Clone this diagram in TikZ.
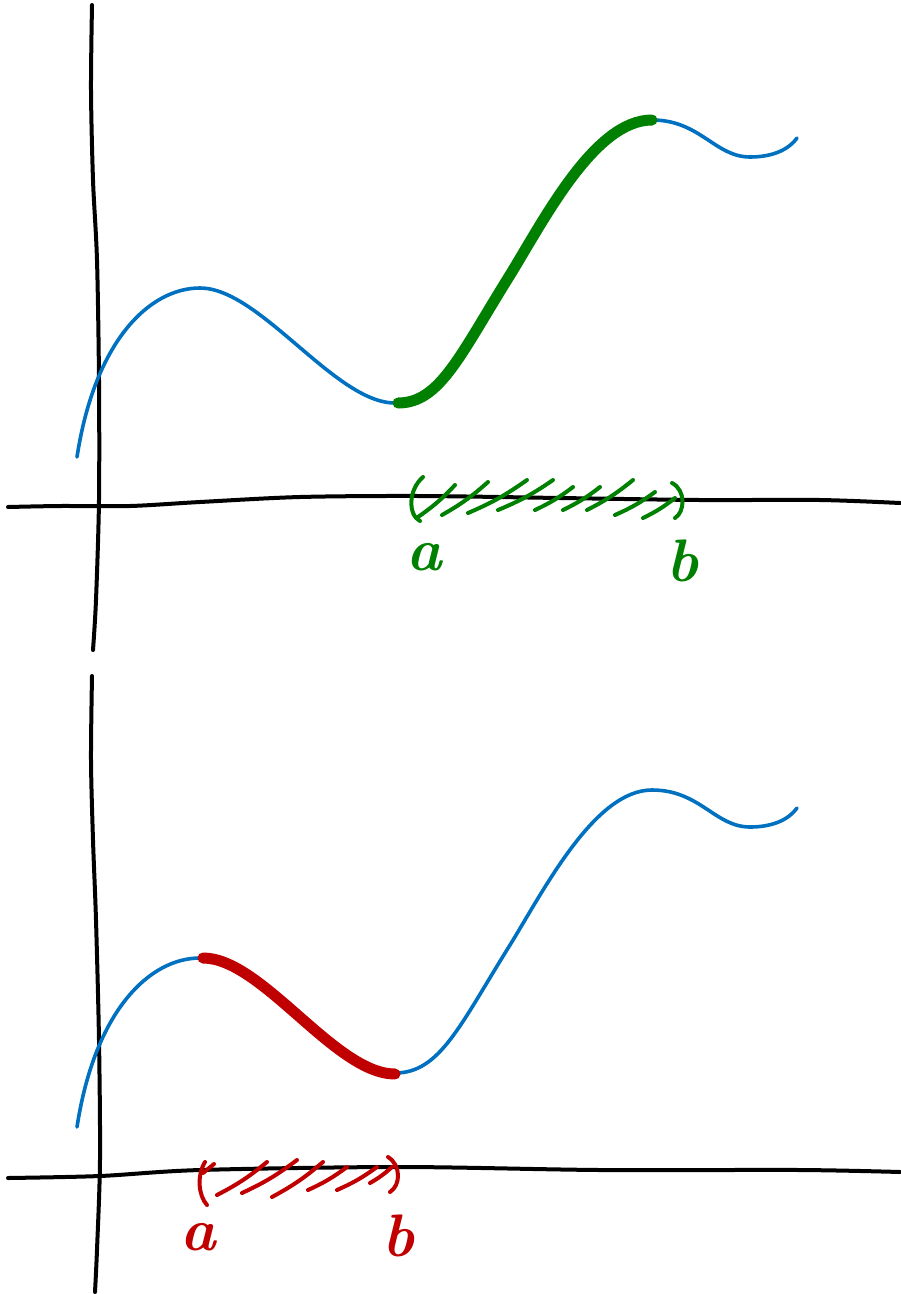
\documentclass[tikz,border=0pt]{standalone}
\usepackage{fontspec}
\usepackage{tikz}
\usetikzlibrary{calc}
\definecolor{curveblue}{RGB}{0,112,192}
\definecolor{hlgreen}{RGB}{0,128,0}
\definecolor{hlred}{RGB}{192,0,0}

\begin{document}
\begin{tikzpicture}[x=1pt,y=-1pt,line cap=round,line join=round,
  axis/.style={line width=4pt,black},
  curve/.style={line width=3.6pt,curveblue},
  hilite/.style={line width=11pt},
  hatch/.style={line width=4pt},
  lbl/.style={font=\fontsize{60}{60}\selectfont\bfseries\itshape,inner sep=0pt}]
  \useasboundingbox (0,0) rectangle (901,1294);
  % 上の図：座標軸
  \draw[axis] plot[smooth] coordinates {(92,5) (91,90) (93,180) (97,260) (99,380) (99,500) (96,600) (93,650)};
  \draw[axis] plot[smooth] coordinates {(8,507) (60,506) (130,506) (200,502) (300,497) (420,496) (560,498) (700,500) (820,500) (900,503)};
  % 上の図：曲線
  \draw[curve] (77,457) .. controls (95,340) and (150,288) .. (200,288)
    .. controls (260,288) and (335,403) .. (395,403)
    .. controls (440,403) and (460,355) .. (510,275)
    .. controls (545,218) and (595,120) .. (652,120)
    .. controls (700,120) and (715,157) .. (750,157)
    .. controls (775,157) and (790,148) .. (797,138);
  \draw[hilite,hlgreen] (398,403) .. controls (440,403) and (460,355) .. (510,275)
    .. controls (545,218) and (595,120) .. (652,120);
  % 上の図：区間 [a,b]
  \draw[hatch,hlgreen] (423,477) .. controls (408,490) and (408,515) .. (420,521);
  \draw[hatch,hlgreen] (672,483) .. controls (686,490) and (685,512) .. (675,518);
  \foreach \x/\y/\u/\v in {418/517/455/485, 442/515/488/482, 468/513/527/480,
      498/510/553/480, 535/510/573/487, 563/510/600/487, 587/510/633/480,
      615/515/655/492, 643/518/675/498}
    \draw[hatch,hlgreen] (\x,\y) to[bend right=6] (\u,\v);
  \node[lbl,text=hlgreen] (a1) at (424,557) {a};
  \node[lbl,text=hlgreen] (b1) at (682,561) {b};
  % 下の図：座標軸
  \draw[axis] plot[smooth] coordinates {(92,676) (91,760) (93,840) (96,920) (99,1040) (100,1160) (97,1250) (95,1292)};
  \draw[axis] plot[smooth] coordinates {(8,1178) (100,1176) (200,1170) (400,1167) (600,1170) (800,1170) (900,1172)};
  % 下の図：曲線
  \begin{scope}[shift={(0,670)}]
    \draw[curve] (77,457) .. controls (95,340) and (150,288) .. (200,288)
      .. controls (260,288) and (335,403) .. (395,403)
      .. controls (440,403) and (460,355) .. (510,275)
      .. controls (545,218) and (595,120) .. (652,120)
      .. controls (700,120) and (715,157) .. (750,157)
      .. controls (775,157) and (790,148) .. (797,138);
    \draw[hilite,hlred] (203,288) .. controls (262,288) and (335,404) .. (395,404);
  \end{scope}
  % 下の図：区間 [a,b]
  \draw[hatch,hlred] (205,1162) .. controls (197,1175) and (198,1195) .. (207,1205);
  \draw[hatch,hlred] (388,1157) .. controls (401,1165) and (401,1185) .. (390,1192);
  \draw[hatch,hlred] (203,1173) -- (214,1164);
  \foreach \x/\y/\u/\v in {217/1195/267/1162, 242/1193/297/1160, 272/1197/323/1162,
      308/1190/347/1167, 337/1190/377/1167, 370/1183/392/1167}
    \draw[hatch,hlred] (\x,\y) to[bend right=6] (\u,\v);
  \node[lbl,text=hlred] (a2) at (198,1237) {a};
  \node[lbl,text=hlred] (b2) at (398,1236) {b};
\end{tikzpicture}
\end{document}
